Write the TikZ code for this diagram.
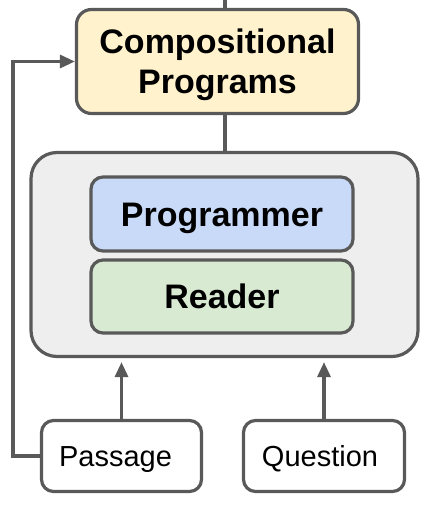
\documentclass[tikz,border=0pt]{standalone}
\usepackage{fontspec}
\setmainfont{Liberation Sans}
\usetikzlibrary{arrows.meta,calc}
\definecolor{edgegray}{HTML}{595959}
\definecolor{compfill}{HTML}{FFF2CC}
\definecolor{progfill}{HTML}{C9DAF8}
\definecolor{readfill}{HTML}{D9EAD3}
\definecolor{contfill}{HTML}{EEEEEE}
\begin{document}
\begin{tikzpicture}[x=1pt,y=1pt,
  box/.style={draw=edgegray,line width=3.2pt,rectangle,inner sep=0pt,align=center},
  boldtext/.style={font=\fontsize{34}{40}\selectfont\bfseries,text height=24.3pt,text depth=0pt},
  plaintext/.style={font=\fontsize{29}{34}\selectfont,text height=20.8pt,text depth=0pt},
  conn/.style={draw=edgegray,line width=3.2pt},
  arr/.style={conn,-{Triangle[length=15pt,width=13pt]}}]
\useasboundingbox (0,0) rectangle (430,-505);
\node[box,fill=contfill,rounded corners=26pt,minimum width=387pt,minimum height=204pt] (cont) at (224.5,-254.5) {};
\node[box,font=\fontsize{34}{40}\selectfont\bfseries,text height=64.3pt,text depth=0pt,fill=compfill,rounded corners=15pt,minimum width=282pt,minimum height=104pt] (comp) at (217.5,-61.5) {Compositional\\Programs};
\node[box,boldtext,fill=progfill,rounded corners=12pt,minimum width=262pt,minimum height=74pt] (prog) at (222,-214) {Programmer};
\node[box,boldtext,fill=readfill,rounded corners=12pt,minimum width=262pt,minimum height=73pt] (read) at (222,-296.5) {Reader};
\node[box,plaintext,fill=white,rounded corners=12pt,minimum width=160pt,minimum height=71pt] (pass) at (121.5,-456) {Passage\hspace{12pt}};
\node[box,plaintext,fill=white,rounded corners=12pt,minimum width=161pt,minimum height=71pt] (ques) at (324,-456) {Question\hspace{8pt}};
\coordinate (top) at (225,0);
\coordinate (leftc) at (13,-456);
\draw[conn] (top |- comp.north) -- (top);
\draw[conn] (top |- comp.south) -- (top |- cont.north);
\draw[arr,shorten >=4pt] (pass.north) -- (pass.north |- cont.south);
\draw[arr,shorten >=4pt] (ques.north) -- (ques.north |- cont.south);
\draw[arr] (pass.west) -- (leftc) |- (comp.west);
\end{tikzpicture}
\end{document}
